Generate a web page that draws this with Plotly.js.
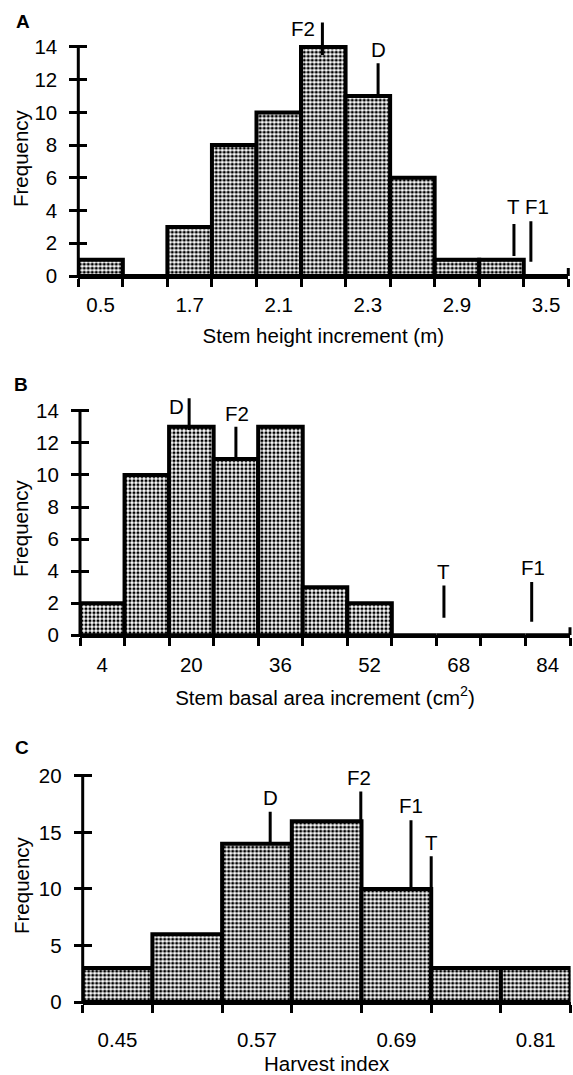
<!DOCTYPE html>
<html><head><meta charset="utf-8">
<script src="https://cdn.plot.ly/plotly-3.0.1.min.js"></script>
<style>html,body{margin:0;padding:0;background:#fff}#chart{width:573px;height:1075px}</style>
</head><body><div id="chart"></div>
<script>
// ---------- Panel A: stem height increment ----------
const countsA = [1, 0, 3, 8, 10, 14, 11, 6, 1, 1, 0];
const labelsA = ['0.5', '1.7', '2.1', '2.3', '2.9', '3.5'];
const yTicksA = [0, 2, 4, 6, 8, 10, 12, 14];
const markNamesA = ['F2', 'D', 'T', 'F1'];
const markPosA = [5.48, 6.73, 9.78, 10.16];
const markLowA = [13.5, 11, 1.22, 0.87];
const markHighA = [15.5, 13, 3.18, 3.35];

// ---------- Panel B: stem basal area increment ----------
const countsB = [2, 10, 13, 11, 13, 3, 2, 0, 0, 0, 0];
const labelsB = ['4', '20', '36', '52', '68', '84'];
const yTicksB = [0, 2, 4, 6, 8, 10, 12, 14];
const markNamesB = ['D', 'F2', 'T', 'F1'];
const markPosB = [2.45, 3.50, 8.17, 10.14];
const markLowB = [12.8, 11, 1.1, 0.85];
const markHighB = [14.78, 13, 3.1, 3.32];

// ---------- Panel C: harvest index ----------
const countsC = [3, 6, 14, 16, 10, 3, 3];
const labelsC = ['0.45', '0.57', '0.69', '0.81'];
const yTicksC = [0, 5, 10, 15, 20];
const markNamesC = ['D', 'F2', 'F1', 'T'];
const markPosC = [2.69, 3.99, 4.71, 5.0];
const markLowC = [14, 16, 10, 10];
const markHighC = [16.84, 18.62, 16.08, 12.9];

const yTitle = 'Frequency';

// ---------- styling / layout ----------
const W = 573, H = 1075;
const FONT = 'Liberation Sans, Arial, Helvetica, sans-serif';
const FS = 20.5;

const panels = [
  {letter: 'A', counts: countsA, labels: labelsA, yTicks: yTicksA, yTop: 16,
   names: markNamesA, pos: markPosA, lo: markLowA, hi: markHighA,
   title: 'Stem height increment (m)',
   ax: ['x', 'y'], xDom: [78.3, 568.3], yPx: [276, 14.2], endTick: true,
   letterPx: [23, 21], yTitlePx: [20, 158], lblStand: 8, ttlStand: 15,
   shift: {F2: [-19, -6], D: [0, 14], T: [0, 17], F1: [6, 15]}},
  {letter: 'B', counts: countsB, labels: labelsB, yTicks: yTicksB, yTop: 16,
   names: markNamesB, pos: markPosB, lo: markLowB, hi: markHighB,
   title: 'Stem basal area increment (cm<sup>2</sup>)',
   ax: ['x2', 'y2'], xDom: [80, 570], yPx: [635.3, 378.7], endTick: true,
   letterPx: [21, 385], yTitlePx: [20, 528], lblStand: 9, ttlStand: 16,
   shift: {D: [-13, -8], F2: [1, 13], T: [0, 14], F1: [1, 15]}},
  {letter: 'C', counts: countsC, labels: labelsC, yTicks: yTicksC, yTop: 20.6,
   names: markNamesC, pos: markPosC, lo: markLowC, hi: markHighC,
   title: 'Harvest index',
   ax: ['x3', 'y3'], xDom: [82.7, 570.6], yPx: [1002, 769.2], endTick: false,
   letterPx: [22, 747], yTitlePx: [21, 885], lblStand: 17, ttlStand: 9,
   shift: {D: [0, 14], F2: [-2, 14], F1: [0, 15], T: [0, 14]}}
];

const key = id => id[0] + 'axis' + id.slice(1);
const data = [], layout = {
  width: W, height: H, margin: {l: 0, r: 0, t: 0, b: 0},
  paper_bgcolor: '#fff', plot_bgcolor: 'rgba(0,0,0,0)',
  font: {family: FONT, size: FS, color: '#000'},
  showlegend: false, bargap: 0, shapes: [], annotations: []
};
const plain = {showgrid: false, zeroline: false, fixedrange: true};
const TICK_HALF = 9;

panels.forEach(p => {
  const [xId, yId] = p.ax;
  const N = p.counts.length;
  const xDom = [p.xDom[0] / W, p.xDom[1] / W];
  const yDom = [1 - p.yPx[0] / H, 1 - p.yPx[1] / H];
  const yRange = [0, p.yTop];

  data.push({
    type: 'bar', xaxis: xId, yaxis: yId,
    x: p.counts.map((_, i) => i + 0.5), y: p.counts,
    marker: {color: '#fff', line: {color: '#000', width: 4},
             pattern: {shape: '.', fgcolor: '#000', bgcolor: '#fff', size: 4, solidity: 0.5}},
    hoverinfo: 'skip'
  });
  const mx = [], my = [];
  p.pos.forEach((v, i) => { mx.push(v, v, null); my.push(p.lo[i], p.hi[i], null); });
  data.push({type: 'scatter', mode: 'lines', xaxis: xId, yaxis: yId, x: mx, y: my,
             line: {color: '#000', width: 3}, hoverinfo: 'skip'});

  // x axis: labels at every other bin centre, tick marks (minor) at every bin edge
  layout[key(xId)] = Object.assign({}, plain, {
    domain: xDom, range: [0, N], anchor: yId, showline: true, linewidth: 3, linecolor: '#000',
    tickvals: p.labels.map((_, i) => 2 * i + 0.5), ticktext: p.labels, ticks: '',
    ticklabelstandoff: p.lblStand,
    minor: {tickmode: 'array', tickvals: Array.from({length: N + 1}, (_, i) => i),
            ticks: 'outside', ticklen: 8, tickwidth: 3, tickcolor: '#000', showgrid: false},
    title: {text: p.title, font: {size: FS}, standoff: p.ttlStand}
  });
  // y axis: ticks crossing the axis line (axis placed half a tick inside the plot)
  layout[key(yId)] = Object.assign({}, plain, {
    domain: yDom, range: yRange, anchor: 'free', position: (p.xDom[0] + TICK_HALF) / W,
    tickvals: p.yTicks, ticks: 'outside', ticklen: 2 * TICK_HALF, tickwidth: 3, tickcolor: '#000',
    showline: false, ticklabelstandoff: 8
  });
  layout.shapes.push({type: 'line', xref: xId + ' domain', yref: yId, x0: 0, x1: 0,
    y0: p.yTicks[0], y1: p.yTicks[p.yTicks.length - 1], line: {color: '#000', width: 3}});
  if (p.endTick) {
    layout.shapes.push({type: 'line', xref: xId + ' domain', yref: yId, x0: 1, x1: 1,
      ysizemode: 'pixel', yanchor: 0, y0: 0, y1: 8, line: {color: '#000', width: 3}});
  }

  // y-axis title, centred on the 0..max tick span of the axis
  layout.annotations.push({xref: 'paper', yref: 'paper', x: p.yTitlePx[0] / W,
    y: 1 - p.yTitlePx[1] / H, text: yTitle, textangle: -90, showarrow: false,
    xanchor: 'center', yanchor: 'middle', font: {size: FS}});

  p.names.forEach((n, i) => {
    const s = p.shift[n] || [0, 14];
    layout.annotations.push({xref: xId, yref: yId, x: p.pos[i], y: p.hi[i], text: n,
      showarrow: false, xanchor: 'center', yanchor: 'middle', xshift: s[0], yshift: s[1],
      font: {size: FS}});
  });
  layout.annotations.push({xref: 'paper', yref: 'paper', x: p.letterPx[0] / W,
    y: 1 - p.letterPx[1] / H, text: '<b>' + p.letter + '</b>', showarrow: false,
    xanchor: 'center', yanchor: 'middle', font: {size: 19}});
});

Plotly.newPlot('chart', data, layout, {displayModeBar: false, staticPlot: true});
</script>
</body></html>
